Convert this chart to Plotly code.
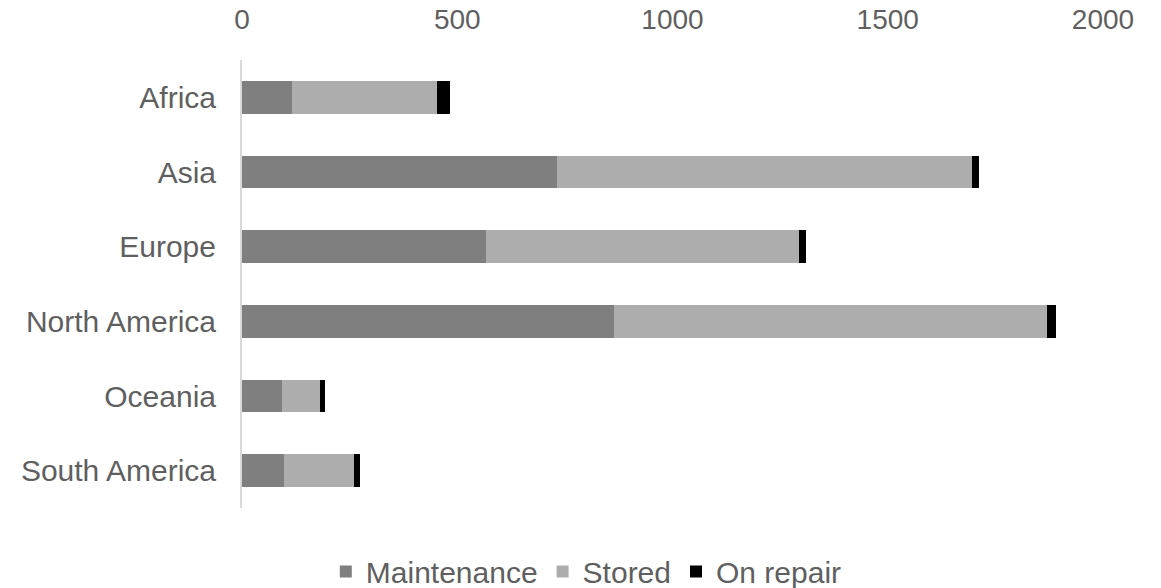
import plotly.graph_objects as go

regions = ["Africa", "Asia", "Europe", "North America", "Oceania", "South America"]
maintenance = [115, 732, 567, 863, 94, 97]
stored = [338, 963, 726, 1007, 88, 164]
on_repair = [30, 18, 18, 20, 10, 14]

tick_vals = [0, 500, 1000, 1500, 2000]
tick_text = ["0", "500", "1000", "1500", "2000"]

FONT = "Liberation Sans"
TEXT_COLOR = "#5f5f5f"

fig = go.Figure()
series = [
    ("Maintenance", maintenance, "#7f7f7f"),
    ("Stored", stored, "#adadad"),
    ("On repair", on_repair, "#000000"),
]
for name, values, color in series:
    fig.add_trace(go.Bar(
        y=regions, x=values, name=name, orientation="h",
        marker=dict(color=color, line=dict(width=0)),
    ))

fig.update_layout(
    barmode="stack",
    bargap=0.56,
    width=1161, height=588,
    margin=dict(l=242, r=58, t=60, b=80, autoexpand=False),
    paper_bgcolor="white", plot_bgcolor="white",
    font=dict(family=FONT, size=30, color=TEXT_COLOR),
    xaxis=dict(
        side="top", range=[0, 2000], tickvals=tick_vals, ticktext=tick_text,
        showgrid=False, zeroline=False, showline=False, ticks="",
        ticklabelstandoff=24, fixedrange=True, automargin=False,
        tickfont=dict(size=28),
    ),
    yaxis=dict(
        autorange="reversed", showgrid=False, zeroline=False,
        showline=True, linecolor="#d9d9d9", linewidth=2, ticks="",
        ticklabelstandoff=18, tickfont=dict(size=30), automargin=False,
    ),
    legend=dict(
        orientation="h", xref="container", yref="container",
        x=0.505, xanchor="center", y=0.028, yanchor="middle",
        font=dict(family=FONT, size=30, color=TEXT_COLOR),
        traceorder="normal", itemwidth=30,
    ),
    showlegend=True,
)

fig.write_html("out.html")
